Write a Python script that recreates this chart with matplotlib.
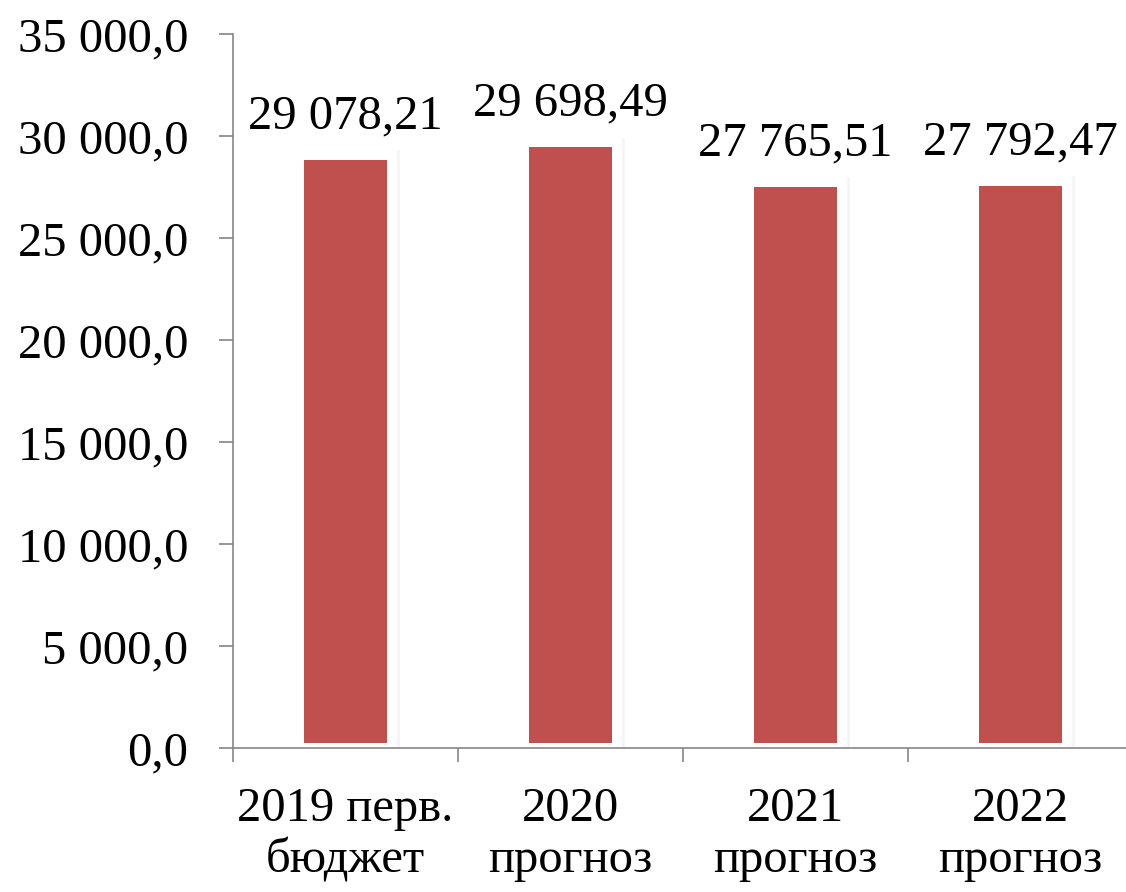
import matplotlib.pyplot as plt
import matplotlib.patheffects as pe
from matplotlib.ticker import FuncFormatter, FixedLocator

categories = ["2019 перв.\nбюджет", "2020\nпрогноз", "2021\nпрогноз", "2022\nпрогноз"]
values = [29078.21, 29698.49, 27765.51, 27792.47]
value_labels = ["29 078,21", "29 698,49", "27 765,51", "27 792,47"]

plt.rcParams['font.family'] = ['Liberation Serif', 'DejaVu Serif']

fig = plt.figure(figsize=(11.26, 8.92), dpi=100)
ax = fig.add_axes([233 / 1126, 1 - 748 / 892, 900 / 1126, (748 - 34) / 892])

x = range(len(categories))
# thick white edge straddles the bar outline, like the Excel style
bars = ax.bar(x, values, width=0.41, color="#C0504D", edgecolor="white",
              linewidth=7.2, zorder=3)
for b in bars:
    b.set_path_effects([
        pe.Stroke(linewidth=8.5, foreground=(0, 0, 0, 0.04), offset=(1.5, -1)),
        pe.Normal(),
    ])

for xi, v, lab in zip(x, values, value_labels):
    ax.annotate(lab, (xi, v), xytext=(0, 19), textcoords="offset points",
                ha="center", va="baseline", fontsize=35)

ax.set_xlim(-0.5, 3.5)
ax.set_ylim(0, 35000)
ax.set_yticks(range(0, 35001, 5000))
ax.yaxis.set_major_formatter(FuncFormatter(
    lambda v, p: f"{v:,.1f}".replace(",", " ").replace(".", ",")))

ax.set_xticks(list(x))
ax.set_xticklabels(categories)
ax.xaxis.set_minor_locator(FixedLocator([-0.5, 0.5, 1.5, 2.5, 3.5]))
ax.tick_params(axis="x", which="major", length=0, pad=28, labelsize=35)
ax.tick_params(axis="x", which="minor", length=10, color="#868686", width=1.2)
ax.tick_params(axis="y", length=10, color="#868686", width=1.2, pad=22, labelsize=35)

for s in ["top", "right"]:
    ax.spines[s].set_visible(False)
for s in ["left", "bottom"]:
    ax.spines[s].set_color("#868686")
    ax.spines[s].set_linewidth(1.2)
    ax.spines[s].set_zorder(4)

fig.savefig("out.png", dpi=100)
